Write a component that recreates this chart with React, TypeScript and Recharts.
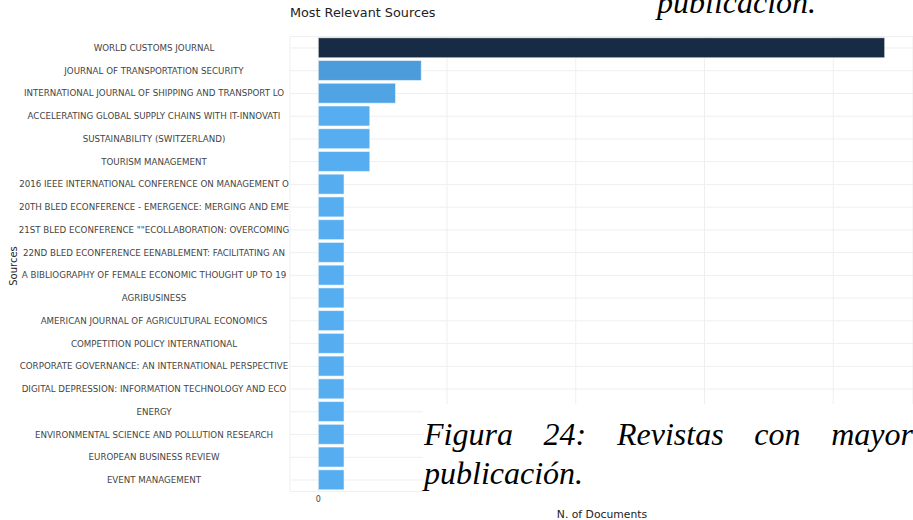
import React from 'react';
import { BarChart, Bar, XAxis, YAxis, CartesianGrid, Cell } from 'recharts';

// Most relevant sources (bibliometrix style)
const sources = [
  'WORLD CUSTOMS JOURNAL',
  'JOURNAL OF TRANSPORTATION SECURITY',
  'INTERNATIONAL JOURNAL OF SHIPPING AND TRANSPORT LO',
  'ACCELERATING GLOBAL SUPPLY CHAINS WITH IT-INNOVATI',
  'SUSTAINABILITY (SWITZERLAND)',
  'TOURISM MANAGEMENT',
  '2016 IEEE INTERNATIONAL CONFERENCE ON MANAGEMENT O',
  '20TH BLED ECONFERENCE - EMERGENCE: MERGING AND EME',
  '21ST BLED ECONFERENCE ""ECOLLABORATION: OVERCOMING',
  '22ND BLED ECONFERENCE EENABLEMENT: FACILITATING AN',
  'A BIBLIOGRAPHY OF FEMALE ECONOMIC THOUGHT UP TO 19',
  'AGRIBUSINESS',
  'AMERICAN JOURNAL OF AGRICULTURAL ECONOMICS',
  'COMPETITION POLICY INTERNATIONAL',
  'CORPORATE GOVERNANCE: AN INTERNATIONAL PERSPECTIVE',
  'DIGITAL DEPRESSION: INFORMATION TECHNOLOGY AND ECO',
  'ENERGY',
  'ENVIRONMENTAL SCIENCE AND POLLUTION RESEARCH',
  'EUROPEAN BUSINESS REVIEW',
  'EVENT MANAGEMENT',
];

const documents = [22, 4, 3, 2, 2, 2, 1, 1, 1, 1, 1, 1, 1, 1, 1, 1, 1, 1, 1, 1];

const xTicks = [0, 5, 10, 15, 20];

const data = sources.map((name, i) => ({ name, docs: documents[i] }));

// colour scale by count, like the original
function barColor(v: number) {
  if (v >= 10) return '#172b45';
  if (v >= 4) return '#4c9cdc';
  if (v >= 3) return '#51a4e4';
  return '#56adf0';
}

const SourceTick = (props: any) => {
  const { y, payload } = props;
  return (
    <text x={154} y={y} dy={3} textAnchor="middle" fontSize={8.7} fill="#444" fontFamily="DejaVu Sans">
      {payload.value}
    </text>
  );
};

const serif = '"Liberation Serif", "Times New Roman", serif';

export default function App() {
  return (
    <div style={{ position: 'absolute', left: 0, top: 0, width: 913, height: 520, background: '#fff', overflow: 'hidden' }}>
      <BarChart
        width={913}
        height={520}
        data={data}
        layout="vertical"
        margin={{ top: 36.6, right: 0, bottom: 6.6, left: 0 }}
        barCategoryGap="5%"
      >
        <CartesianGrid stroke="#efefef" strokeWidth={1} />
        <XAxis
          type="number"
          domain={[-1.1, 23.1]}
          ticks={xTicks}
          allowDataOverflow
          axisLine={false}
          tickLine={false}
          tickSize={3}
          height={22}
          tick={{ fontSize: 8, fill: '#444', fontFamily: 'DejaVu Sans' }}
        />
        <YAxis
          type="category"
          dataKey="name"
          width={290}
          axisLine={false}
          tickLine={false}
          interval={0}
          tick={<SourceTick />}
        />
        <Bar dataKey="docs" isAnimationActive={false} stroke="rgba(255,255,255,0.55)" strokeWidth={1}>
          {data.map((d, i) => (
            <Cell key={i} fill={barColor(d.docs)} />
          ))}
        </Bar>
      </BarChart>

      <div style={{ position: 'absolute', left: 290, top: 5, fontFamily: 'DejaVu Sans', fontSize: 12.8, color: '#222', whiteSpace: 'nowrap' }}>
        Most Relevant Sources
      </div>
      <div
        style={{
          position: 'absolute', left: 13, top: 266, transform: 'translate(-50%, -50%) rotate(-90deg)',
          fontFamily: 'DejaVu Sans', fontSize: 10, color: '#222', whiteSpace: 'nowrap',
        }}
      >
        Sources
      </div>
      <div style={{ position: 'absolute', left: 602, top: 508, transform: 'translateX(-50%)', fontFamily: 'DejaVu Sans', fontSize: 10.8, color: '#222', whiteSpace: 'nowrap' }}>
        N. of Documents
      </div>

      {/* document caption pasted over the chart */}
      <div style={{ position: 'absolute', left: 657, top: -17, fontFamily: serif, fontStyle: 'italic', fontSize: 32, lineHeight: '39px', color: '#000', whiteSpace: 'nowrap' }}>
        publicación.
      </div>
      <div style={{ position: 'absolute', left: 423, top: 404, width: 490, height: 103, background: '#fff' }}>
        <div style={{ marginTop: 10.5, marginLeft: 1, width: 489, fontFamily: serif, fontStyle: 'italic', fontSize: 32, lineHeight: '39px', textAlign: 'justify', color: '#000' }}>
          Figura 24: Revistas con mayor publicación.
        </div>
      </div>
    </div>
  );
}
